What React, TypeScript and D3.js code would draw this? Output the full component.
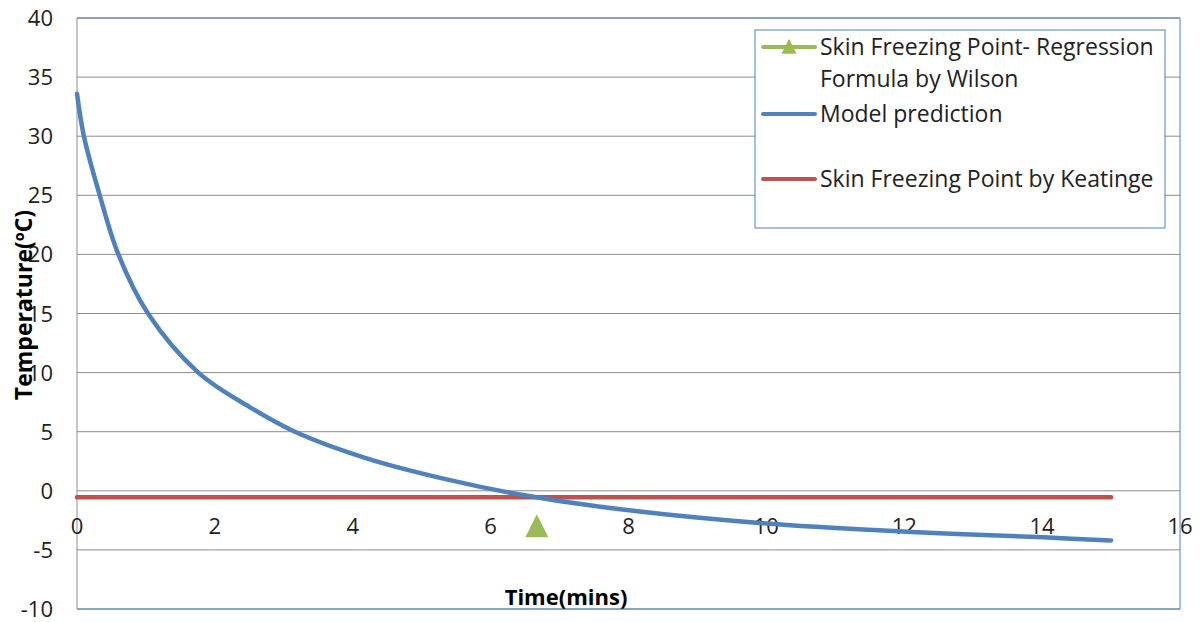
import React from "react";
import * as d3 from "d3";

const modelTime = [0, 0.1, 0.33, 0.6, 1.03, 1.76, 2.5, 3.16, 4.2, 5.41, 6.32, 7.59, 9.95, 12.03, 14.02, 15];
const modelTemp = [33.6, 30, 25, 20, 15, 10, 7.1, 5, 2.75, 0.9, -0.2, -1.35, -2.75, -3.46, -3.94, -4.2];
const keatingeTime = [0, 15];
const keatingeTemp = [-0.55, -0.55];
const wilsonTime = [6.67];
const wilsonTemp = [-3.05];
const xTicks = [0, 2, 4, 6, 8, 10, 12, 14, 16];
const yTicks = [-10, -5, 0, 5, 10, 15, 20, 25, 30, 35, 40];
const legendLabels = [["Skin Freezing Point- Regression", "Formula by Wilson"], ["Model prediction"], ["Skin Freezing Point by Keatinge"]];

const W = 1202, H = 622;
const L = 77, R = 1180, T = 18, B = 609;
const FONT = "'Open Sans', Lato, sans-serif";
const BLUE = "#4F81BD", RED = "#C0504D", GREEN = "#9BBB59", GRID = "#8C8C8C";

export default function App() {
  const x = d3.scaleLinear().domain([0, 16]).range([L, R]);
  const y = d3.scaleLinear().domain([-10, 40]).range([B, T]);
  const model = modelTime.map((t, i) => [t, modelTemp[i]] as [number, number]);
  const keat = keatingeTime.map((t, i) => [t, keatingeTemp[i]] as [number, number]);
  const line = d3.line<[number, number]>().x(d => x(d[0])).y(d => y(d[1])).curve(d3.curveCatmullRom.alpha(0.5));
  const tri = (cx: number, cy: number, s: number) =>
    `M${cx},${cy - s * 0.55}L${cx + s / 2},${cy + s * 0.45}L${cx - s / 2},${cy + s * 0.45}Z`;
  const y0 = y(0);
  return (
    <svg width={W} height={H} style={{ position: "absolute", left: 0, top: 0, background: "#fff" }}>
      <rect x={0} y={0} width={W} height={H} fill="#fff" />
      {yTicks.map(v => (
        <line key={"g" + v} x1={L} x2={R} y1={y(v)} y2={y(v)} stroke={GRID} strokeWidth={1} />
      ))}
      <line x1={L} x2={R} y1={T} y2={T} stroke={BLUE} strokeWidth={1} />
      <line x1={L} x2={R} y1={B} y2={B} stroke={BLUE} strokeWidth={1} />
      <line x1={R} x2={R} y1={T} y2={B} stroke={BLUE} strokeWidth={1} />
      <line x1={L} x2={L} y1={T} y2={B} stroke={GRID} strokeWidth={1} />
      {yTicks.map(v => (
        <text key={"yl" + v} x={53} y={y(v) + 8} textAnchor="end" fontFamily={FONT} fontSize={22} fill="#222">{v}</text>
      ))}
      {xTicks.map(v => (
        <text key={"xl" + v} x={x(v)} y={y0 + 43} textAnchor="middle" fontFamily={FONT} fontSize={22} fill="#222">{v}</text>
      ))}
      <path d={line(keat) || ""} fill="none" stroke={RED} strokeWidth={4.5} strokeLinecap="round" />
      <path d={line(model) || ""} fill="none" stroke={BLUE} strokeWidth={4.5} strokeLinecap="round" />
      {wilsonTime.map((t, i) => (
        <path key={"w" + i} d={tri(x(t), y(wilsonTemp[i]), 23)} fill={GREEN} />
      ))}
      <text x={566} y={605} textAnchor="middle" fontFamily={FONT} fontWeight="bold" fontSize={22} fill="#000">Time(mins)</text>
      <text transform="translate(32,305) rotate(-90)" textAnchor="middle" fontFamily={FONT} fontWeight="bold" fontSize={23} fill="#000">Temperature(ºC)</text>
      <rect x={755} y={30} width={410} height={198} fill="#fff" stroke={BLUE} strokeWidth={1} />
      <g fontFamily={FONT} fontSize={23} fill="#222">
        <line x1={763} x2={815} y1={47} y2={47} stroke={GREEN} strokeWidth={4} strokeLinecap="round" />
        <path d={tri(789, 47, 15)} fill={GREEN} />
        <text x={820} y={55}>{legendLabels[0][0]}</text>
        <text x={820} y={87}>{legendLabels[0][1]}</text>
        <line x1={763} x2={815} y1={114} y2={114} stroke={BLUE} strokeWidth={4} strokeLinecap="round" />
        <text x={820} y={122}>{legendLabels[1][0]}</text>
        <line x1={763} x2={815} y1={179} y2={179} stroke={RED} strokeWidth={4} strokeLinecap="round" />
        <text x={820} y={187}>{legendLabels[2][0]}</text>
      </g>
    </svg>
  );
}
